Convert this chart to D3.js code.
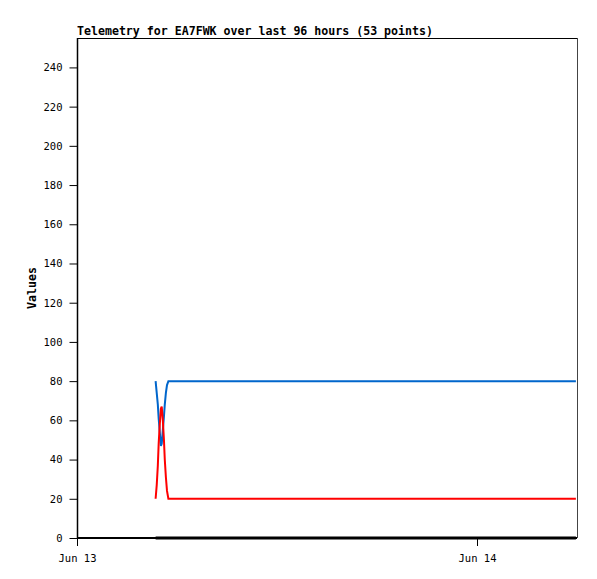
<!DOCTYPE html>
<html><head><meta charset="utf-8">
<script src="https://cdn.jsdelivr.net/npm/d3@7"></script>
<style>body{margin:0;background:#fff}svg{display:block}</style>
</head><body>
<script>
const title = "Telemetry for EA7FWK over last 96 hours (53 points)";
const yLabel = "Values";
const startTime = "2024-06-13T00:00:00Z";
const endMinutes = 1800;
// minutes after Jun 13 00:00
const minutes = [283,287,291,294,298,302,305,309,313,316,320,324,329,
  362,398,434,470,506,542,578,614,650,686,722,758,794,830,866,902,938,974,1010,
  1046,1082,1118,1154,1190,1226,1262,1298,1334,1370,1406,1442,1478,1514,1550,
  1586,1622,1658,1694,1730,1796];
const blueValues = [80,74,68,61,54,47,48,55,62,68,74,78,80,
  80,80,80,80,80,80,80,80,80,80,80,80,80,80,80,80,80,80,80,80,80,80,80,80,80,80,80,80,80,
  80,80,80,80,80,80,80,80,80,80,80];
const redValues = [20,27,37,48,58,66,67,60,50,40,31,24,20,
  20,20,20,20,20,20,20,20,20,20,20,20,20,20,20,20,20,20,20,20,20,20,20,20,20,20,20,20,20,
  20,20,20,20,20,20,20,20,20,20,20];
const blackValues = minutes.map(() => 0);
const yTicks = [0,20,40,60,80,100,120,140,160,180,200,220,240];
const xTickDates = ["2024-06-13T00:00:00Z","2024-06-14T00:00:00Z"];

const W = 597, H = 579;
const L = 77, R = 577, T = 38, B = 538;
const t0 = new Date(startTime);
const times = minutes.map(m => new Date(t0.getTime() + m * 60000));

const svg = d3.select("body").append("svg").attr("width", W).attr("height", H);
const x = d3.scaleUtc().domain([t0, new Date(t0.getTime() + endMinutes * 60000)]).range([L, R]);
const y = d3.scaleLinear().domain([0, 255]).range([B, T]);

const mono = "'DejaVu Sans Mono', monospace";

// frame
svg.append("line").attr("x1", L).attr("x2", R).attr("y1", T + 0.5).attr("y2", T + 0.5).attr("stroke", "#000");
svg.append("line").attr("x1", R + 0.5).attr("x2", R + 0.5).attr("y1", T).attr("y2", B).attr("stroke", "#444");

const line = vals => d3.line().x((d, i) => x(times[i])).y(d => y(d))(vals);
svg.append("path").attr("d", line(blackValues)).attr("fill", "none").attr("stroke", "#000").attr("stroke-width", 3);
svg.append("path").attr("d", line(blueValues)).attr("fill", "none").attr("stroke", "#0066cc").attr("stroke-width", 2);
svg.append("path").attr("d", line(redValues)).attr("fill", "none").attr("stroke", "#ff0000").attr("stroke-width", 2);

// y axis
const ya = svg.append("g").attr("transform", `translate(${L + 0.5},0)`)
  .call(d3.axisLeft(y).tickValues(yTicks).tickSize(8).tickPadding(7));
ya.select(".domain").attr("d", `M0,${T}V${B}`).attr("stroke", "#000").attr("stroke-width", 1.5);
ya.selectAll("text").attr("font-family", mono).attr("font-size", 10.5).attr("fill", "#000");

// x axis
const xa = svg.append("g").attr("transform", `translate(0,${B})`)
  .call(d3.axisBottom(x).tickValues(xTickDates.map(d => new Date(d))).tickFormat(d3.utcFormat("%b %d")).tickSize(8).tickPadding(9));
xa.select(".domain").attr("d", `M${L},0H${R}`).attr("stroke", "#000").attr("stroke-width", 2);
xa.selectAll("text").attr("font-family", mono).attr("font-size", 10.5).attr("fill", "#000");

// title
svg.append("text").attr("x", L).attr("y", 35).attr("font-family", mono).attr("font-weight", "bold")
  .attr("font-size", 11.6).text(title);
// y label
svg.append("text").attr("transform", `translate(36,${(T + B) / 2}) rotate(-90)`).attr("text-anchor", "middle")
  .attr("font-family", mono).attr("font-weight", "bold").attr("font-size", 11.6).text(yLabel);
</script>
</body></html>
